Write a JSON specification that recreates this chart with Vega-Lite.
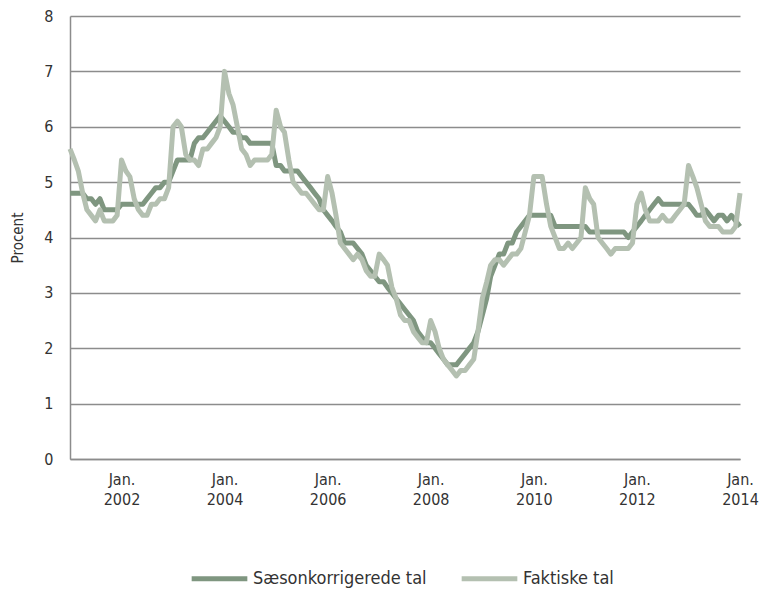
{
 "$schema": "https://vega.github.io/schema/vega-lite/v6.json",
 "width": 670, "height": 443,
 "autosize": {"type": "none"},
 "padding": {"left": 70, "top": 16, "right": 22, "bottom": 130},
 "config": {"font": "DejaVu Sans Condensed, Roboto, sans-serif", "view": {"stroke": null}},
 "data": {"values": [
{"d":"2001-01-01","korr":4.8,"tal":5.6},{"d":"2001-02-01","korr":4.8,"tal":5.4},{"d":"2001-03-01","korr":4.8,"tal":5.2},{"d":"2001-04-01","korr":4.8,"tal":4.8},{"d":"2001-05-01","korr":4.7,"tal":4.5},{"d":"2001-06-01","korr":4.7,"tal":4.4},{"d":"2001-07-01","korr":4.6,"tal":4.3},{"d":"2001-08-01","korr":4.7,"tal":4.5},{"d":"2001-09-01","korr":4.5,"tal":4.3},{"d":"2001-10-01","korr":4.5,"tal":4.3},{"d":"2001-11-01","korr":4.5,"tal":4.3},{"d":"2001-12-01","korr":4.5,"tal":4.4},
{"d":"2002-01-01","korr":4.6,"tal":5.4},{"d":"2002-02-01","korr":4.6,"tal":5.2},{"d":"2002-03-01","korr":4.6,"tal":5.1},{"d":"2002-04-01","korr":4.6,"tal":4.7},{"d":"2002-05-01","korr":4.6,"tal":4.5},{"d":"2002-06-01","korr":4.6,"tal":4.4},{"d":"2002-07-01","korr":4.7,"tal":4.4},{"d":"2002-08-01","korr":4.8,"tal":4.6},{"d":"2002-09-01","korr":4.9,"tal":4.6},{"d":"2002-10-01","korr":4.9,"tal":4.7},{"d":"2002-11-01","korr":5.0,"tal":4.7},{"d":"2002-12-01","korr":5.0,"tal":4.9},
{"d":"2003-01-01","korr":5.2,"tal":6.0},{"d":"2003-02-01","korr":5.4,"tal":6.1},{"d":"2003-03-01","korr":5.4,"tal":6.0},{"d":"2003-04-01","korr":5.4,"tal":5.5},{"d":"2003-05-01","korr":5.4,"tal":5.4},{"d":"2003-06-01","korr":5.7,"tal":5.4},{"d":"2003-07-01","korr":5.8,"tal":5.3},{"d":"2003-08-01","korr":5.8,"tal":5.6},{"d":"2003-09-01","korr":5.9,"tal":5.6},{"d":"2003-10-01","korr":6.0,"tal":5.7},{"d":"2003-11-01","korr":6.1,"tal":5.8},{"d":"2003-12-01","korr":6.2,"tal":6.0},
{"d":"2004-01-01","korr":6.1,"tal":7.0},{"d":"2004-02-01","korr":6.0,"tal":6.6},{"d":"2004-03-01","korr":5.9,"tal":6.4},{"d":"2004-04-01","korr":5.9,"tal":6.0},{"d":"2004-05-01","korr":5.8,"tal":5.6},{"d":"2004-06-01","korr":5.8,"tal":5.5},{"d":"2004-07-01","korr":5.7,"tal":5.3},{"d":"2004-08-01","korr":5.7,"tal":5.4},{"d":"2004-09-01","korr":5.7,"tal":5.4},{"d":"2004-10-01","korr":5.7,"tal":5.4},{"d":"2004-11-01","korr":5.7,"tal":5.4},{"d":"2004-12-01","korr":5.7,"tal":5.5},
{"d":"2005-01-01","korr":5.3,"tal":6.3},{"d":"2005-02-01","korr":5.3,"tal":6.0},{"d":"2005-03-01","korr":5.2,"tal":5.9},{"d":"2005-04-01","korr":5.2,"tal":5.4},{"d":"2005-05-01","korr":5.2,"tal":5.0},{"d":"2005-06-01","korr":5.2,"tal":4.9},{"d":"2005-07-01","korr":5.1,"tal":4.8},{"d":"2005-08-01","korr":5.0,"tal":4.8},{"d":"2005-09-01","korr":4.9,"tal":4.7},{"d":"2005-10-01","korr":4.8,"tal":4.6},{"d":"2005-11-01","korr":4.7,"tal":4.5},{"d":"2005-12-01","korr":4.5,"tal":4.5},
{"d":"2006-01-01","korr":4.4,"tal":5.1},{"d":"2006-02-01","korr":4.3,"tal":4.8},{"d":"2006-03-01","korr":4.2,"tal":4.4},{"d":"2006-04-01","korr":4.1,"tal":3.9},{"d":"2006-05-01","korr":3.9,"tal":3.8},{"d":"2006-06-01","korr":3.9,"tal":3.7},{"d":"2006-07-01","korr":3.9,"tal":3.6},{"d":"2006-08-01","korr":3.8,"tal":3.7},{"d":"2006-09-01","korr":3.7,"tal":3.6},{"d":"2006-10-01","korr":3.5,"tal":3.4},{"d":"2006-11-01","korr":3.4,"tal":3.3},{"d":"2006-12-01","korr":3.3,"tal":3.3},
{"d":"2007-01-01","korr":3.2,"tal":3.7},{"d":"2007-02-01","korr":3.2,"tal":3.6},{"d":"2007-03-01","korr":3.1,"tal":3.5},{"d":"2007-04-01","korr":3.0,"tal":3.1},{"d":"2007-05-01","korr":2.9,"tal":2.9},{"d":"2007-06-01","korr":2.8,"tal":2.6},{"d":"2007-07-01","korr":2.7,"tal":2.5},{"d":"2007-08-01","korr":2.6,"tal":2.5},{"d":"2007-09-01","korr":2.5,"tal":2.3},{"d":"2007-10-01","korr":2.3,"tal":2.2},{"d":"2007-11-01","korr":2.2,"tal":2.1},{"d":"2007-12-01","korr":2.1,"tal":2.1},
{"d":"2008-01-01","korr":2.1,"tal":2.5},{"d":"2008-02-01","korr":2.0,"tal":2.3},{"d":"2008-03-01","korr":1.9,"tal":2.0},{"d":"2008-04-01","korr":1.8,"tal":1.8},{"d":"2008-05-01","korr":1.7,"tal":1.7},{"d":"2008-06-01","korr":1.7,"tal":1.6},{"d":"2008-07-01","korr":1.7,"tal":1.5},{"d":"2008-08-01","korr":1.8,"tal":1.6},{"d":"2008-09-01","korr":1.9,"tal":1.6},{"d":"2008-10-01","korr":2.0,"tal":1.7},{"d":"2008-11-01","korr":2.1,"tal":1.8},{"d":"2008-12-01","korr":2.3,"tal":2.3},
{"d":"2009-01-01","korr":2.6,"tal":2.9},{"d":"2009-02-01","korr":2.9,"tal":3.2},{"d":"2009-03-01","korr":3.3,"tal":3.5},{"d":"2009-04-01","korr":3.5,"tal":3.6},{"d":"2009-05-01","korr":3.7,"tal":3.6},{"d":"2009-06-01","korr":3.7,"tal":3.5},{"d":"2009-07-01","korr":3.9,"tal":3.6},{"d":"2009-08-01","korr":3.9,"tal":3.7},{"d":"2009-09-01","korr":4.1,"tal":3.7},{"d":"2009-10-01","korr":4.2,"tal":3.8},{"d":"2009-11-01","korr":4.3,"tal":4.1},{"d":"2009-12-01","korr":4.4,"tal":4.4},
{"d":"2010-01-01","korr":4.4,"tal":5.1},{"d":"2010-02-01","korr":4.4,"tal":5.1},{"d":"2010-03-01","korr":4.4,"tal":5.1},{"d":"2010-04-01","korr":4.4,"tal":4.6},{"d":"2010-05-01","korr":4.4,"tal":4.2},{"d":"2010-06-01","korr":4.2,"tal":4.0},{"d":"2010-07-01","korr":4.2,"tal":3.8},{"d":"2010-08-01","korr":4.2,"tal":3.8},{"d":"2010-09-01","korr":4.2,"tal":3.9},{"d":"2010-10-01","korr":4.2,"tal":3.8},{"d":"2010-11-01","korr":4.2,"tal":3.9},{"d":"2010-12-01","korr":4.2,"tal":4.0},
{"d":"2011-01-01","korr":4.2,"tal":4.9},{"d":"2011-02-01","korr":4.1,"tal":4.7},{"d":"2011-03-01","korr":4.1,"tal":4.6},{"d":"2011-04-01","korr":4.1,"tal":4.0},{"d":"2011-05-01","korr":4.1,"tal":3.9},{"d":"2011-06-01","korr":4.1,"tal":3.8},{"d":"2011-07-01","korr":4.1,"tal":3.7},{"d":"2011-08-01","korr":4.1,"tal":3.8},{"d":"2011-09-01","korr":4.1,"tal":3.8},{"d":"2011-10-01","korr":4.1,"tal":3.8},{"d":"2011-11-01","korr":4.0,"tal":3.8},{"d":"2011-12-01","korr":4.1,"tal":3.9},
{"d":"2012-01-01","korr":4.2,"tal":4.6},{"d":"2012-02-01","korr":4.3,"tal":4.8},{"d":"2012-03-01","korr":4.4,"tal":4.5},{"d":"2012-04-01","korr":4.5,"tal":4.3},{"d":"2012-05-01","korr":4.6,"tal":4.3},{"d":"2012-06-01","korr":4.7,"tal":4.3},{"d":"2012-07-01","korr":4.6,"tal":4.4},{"d":"2012-08-01","korr":4.6,"tal":4.3},{"d":"2012-09-01","korr":4.6,"tal":4.3},{"d":"2012-10-01","korr":4.6,"tal":4.4},{"d":"2012-11-01","korr":4.6,"tal":4.5},{"d":"2012-12-01","korr":4.6,"tal":4.6},
{"d":"2013-01-01","korr":4.6,"tal":5.3},{"d":"2013-02-01","korr":4.5,"tal":5.1},{"d":"2013-03-01","korr":4.4,"tal":4.9},{"d":"2013-04-01","korr":4.4,"tal":4.6},{"d":"2013-05-01","korr":4.5,"tal":4.3},{"d":"2013-06-01","korr":4.4,"tal":4.2},{"d":"2013-07-01","korr":4.3,"tal":4.2},{"d":"2013-08-01","korr":4.4,"tal":4.2},{"d":"2013-09-01","korr":4.4,"tal":4.1},{"d":"2013-10-01","korr":4.3,"tal":4.1},{"d":"2013-11-01","korr":4.4,"tal":4.1},{"d":"2013-12-01","korr":4.3,"tal":4.2},
{"d":"2014-01-01","korr":4.2,"tal":4.8}
 ]},
 "transform": [{"fold": ["korr", "tal"], "as": ["serie", "v"]}],
 "mark": {"type": "line", "strokeWidth": 5, "strokeJoin": "round"},
 "encoding": {
  "x": {"field": "d", "type": "temporal",
   "scale": {"domain": [{"year": 2001, "month": 1, "date": 1}, {"year": 2014, "month": 1, "date": 1}]},
   "axis": {"title": null, "grid": false, "ticks": false, "domainColor": "#8c8c8c", "domainWidth": 1.5,
    "values": [{"year": 2002, "month": 1, "date": 1}, {"year": 2004, "month": 1, "date": 1}, {"year": 2006, "month": 1, "date": 1}, {"year": 2008, "month": 1, "date": 1}, {"year": 2010, "month": 1, "date": 1}, {"year": 2012, "month": 1, "date": 1}, {"year": 2014, "month": 1, "date": 1}],
    "labelExpr": "['Jan.', timeFormat(datum.value, '%Y')]",
    "labelFontSize": 16, "labelColor": "#333333", "labelPadding": 12, "labelLineHeight": 20, "labelOverlap": false, "labelFlush": false}},
  "y": {"field": "v", "type": "quantitative",
   "scale": {"domain": [0, 8]},
   "axis": {"title": "Procent", "titleFontSize": 15, "titleFontWeight": "normal", "titleColor": "#333333", "titlePadding": 18,
    "values": [0, 1, 2, 3, 4, 5, 6, 7, 8], "grid": true, "gridColor": "#8c8c8c", "gridWidth": 1.5,
    "ticks": false, "domainColor": "#8c8c8c", "domainWidth": 1.5,
    "labelFontSize": 16, "labelColor": "#333333", "labelPadding": 17}},
  "color": {"field": "serie", "type": "nominal",
   "scale": {"domain": ["korr", "tal"], "range": ["#7f9680", "#b4c0b1"]},
   "legend": {"title": null, "orient": "none", "legendX": 119, "legendY": 532, "direction": "horizontal",
    "symbolType": "stroke", "symbolSize": 3100, "symbolStrokeWidth": 5, "labelLimit": 400,
    "labelExpr": "datum.value == 'korr' ? 'Sæsonkorrigerede tal' : 'Faktiske tal'",
    "labelFontSize": 18, "labelColor": "#333333", "labelOffset": 3, "columnPadding": 24}}
 }
}
